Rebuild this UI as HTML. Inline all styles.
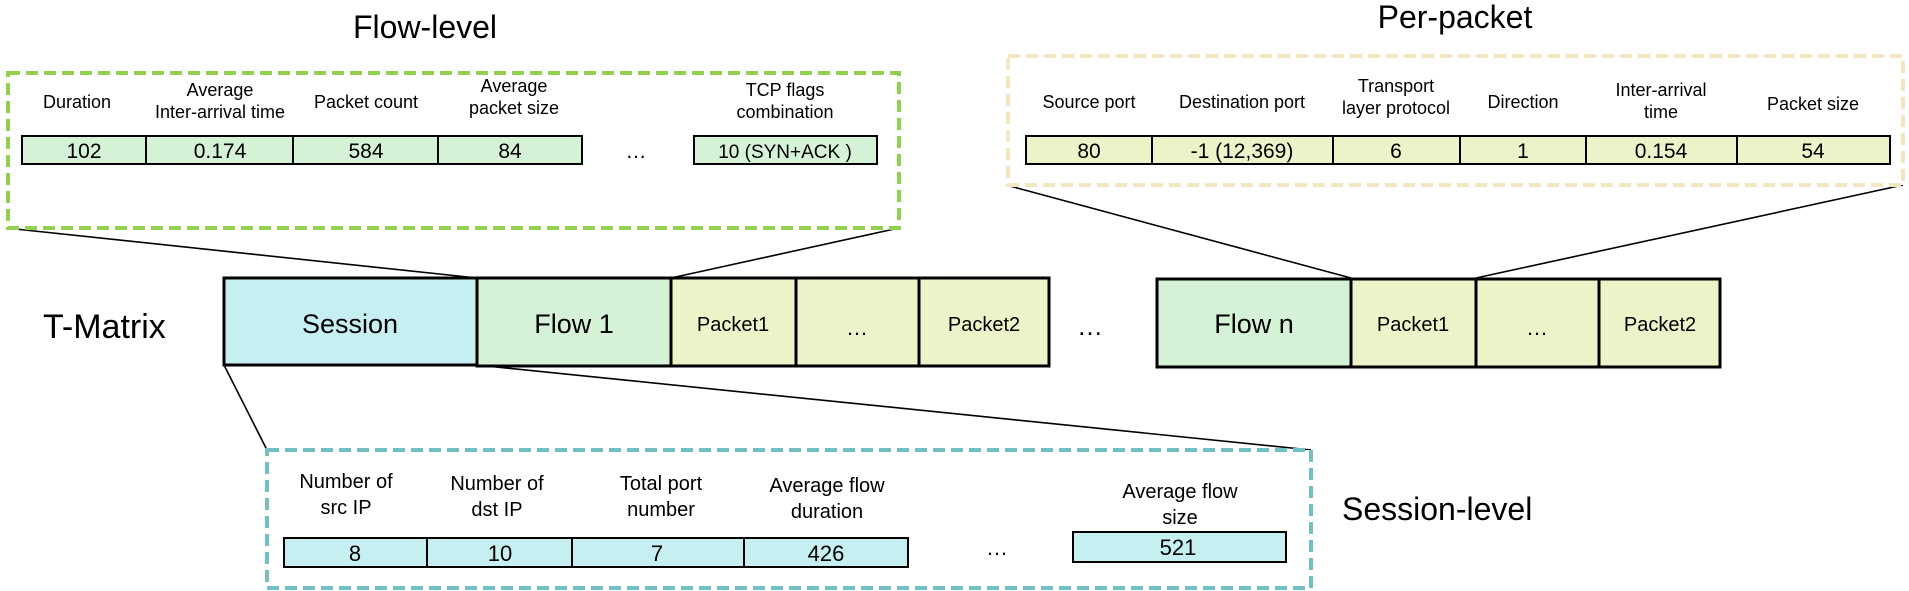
<!DOCTYPE html>
<html><head><meta charset="utf-8"><style>
html,body{margin:0;padding:0;background:#fff}
svg{display:block}
text{font-family:"Liberation Sans",Arial,sans-serif;fill:#000}
</style></head><body>
<svg width="1909" height="591" viewBox="0 0 1909 591" xmlns="http://www.w3.org/2000/svg">
<g stroke="#000" stroke-width="1.6" fill="none">
<line x1="6" y1="228" x2="477" y2="278"/>
<line x1="899" y1="228" x2="671" y2="278"/>
<line x1="1006" y1="185" x2="1351" y2="278"/>
<line x1="1903" y1="185" x2="1476" y2="278"/>
<line x1="224" y1="365" x2="267" y2="450"/>
<line x1="477" y1="365" x2="1311" y2="450"/>
</g>
<rect x="8" y="73" width="891" height="155" fill="#fff" stroke="#92d050" stroke-width="4" stroke-dasharray="12,6"/>
<rect x="1008" y="56" width="895" height="129" fill="#fff" stroke="#f5e6c3" stroke-width="4" stroke-dasharray="12,6"/>
<rect x="267" y="450" width="1044" height="138" fill="#fff" stroke="#72c0c4" stroke-width="4" stroke-dasharray="12,6"/>
<text x="425" y="38" font-size="32" text-anchor="middle">Flow-level</text>
<text x="1455" y="28" font-size="32" text-anchor="middle">Per-packet</text>
<text x="43" y="338" font-size="34">T-Matrix</text>
<text x="1342" y="520" font-size="32">Session-level</text>
<g stroke="#000" stroke-width="2" fill="#d5f2d6">
<rect x="22" y="136" width="124" height="28"/>
<rect x="146" y="136" width="147" height="28"/>
<rect x="293" y="136" width="145" height="28"/>
<rect x="438" y="136" width="144" height="28"/>
<rect x="694" y="136" width="183" height="28"/>
</g>
<g font-size="18" text-anchor="middle">
<text x="77" y="108">Duration</text>
<text x="220" y="96">Average</text><text x="220" y="118">Inter-arrival time</text>
<text x="366" y="108">Packet count</text>
<text x="514" y="92">Average</text><text x="514" y="114">packet size</text>
<text x="785" y="96">TCP flags</text><text x="785" y="118">combination</text>
</g>
<g font-size="21" text-anchor="middle">
<text x="84" y="158">102</text>
<text x="220" y="158">0.174</text>
<text x="366" y="158">584</text>
<text x="510" y="158">84</text>
<text x="636" y="158">…</text>
<text x="785" y="158" font-size="19">10 (SYN+ACK )</text>
</g>
<g stroke="#000" stroke-width="2" fill="#eef2c8">
<rect x="1026" y="136" width="126" height="28"/>
<rect x="1152" y="136" width="181" height="28"/>
<rect x="1333" y="136" width="127" height="28"/>
<rect x="1460" y="136" width="126" height="28"/>
<rect x="1586" y="136" width="151" height="28"/>
<rect x="1737" y="136" width="153" height="28"/>
</g>
<g font-size="18" text-anchor="middle">
<text x="1089" y="108">Source port</text>
<text x="1242" y="108">Destination port</text>
<text x="1396" y="92">Transport</text><text x="1396" y="114">layer protocol</text>
<text x="1523" y="108">Direction</text>
<text x="1661" y="96">Inter-arrival</text><text x="1661" y="118">time</text>
<text x="1813" y="110">Packet size</text>
</g>
<g font-size="21" text-anchor="middle">
<text x="1089" y="158">80</text>
<text x="1242" y="158">-1 (12,369)</text>
<text x="1396" y="158">6</text>
<text x="1523" y="158">1</text>
<text x="1661" y="158">0.154</text>
<text x="1813" y="158">54</text>
</g>
<g stroke="#000" stroke-width="3">
<rect x="224" y="278" width="253" height="87" fill="#c6eff1"/>
<rect x="477" y="278" width="194" height="88" fill="#d5f2d6"/>
<rect x="671" y="278" width="125" height="88" fill="#eef2c8"/>
<rect x="796" y="278" width="123" height="88" fill="#eef2c8"/>
<rect x="919" y="278" width="130" height="88" fill="#eef2c8"/>
<rect x="1157" y="279" width="194" height="88" fill="#d5f2d6"/>
<rect x="1351" y="279" width="125" height="88" fill="#eef2c8"/>
<rect x="1476" y="279" width="123" height="88" fill="#eef2c8"/>
<rect x="1599" y="279" width="121" height="88" fill="#eef2c8"/>
</g>
<g text-anchor="middle">
<text x="350" y="333" font-size="27">Session</text>
<text x="574" y="333" font-size="27">Flow 1</text>
<text x="733" y="331" font-size="20">Packet1</text>
<text x="857" y="335" font-size="22">…</text>
<text x="984" y="331" font-size="20">Packet2</text>
<text x="1090" y="335" font-size="26">…</text>
<text x="1254" y="333" font-size="27">Flow n</text>
<text x="1413" y="331" font-size="20">Packet1</text>
<text x="1537" y="335" font-size="22">…</text>
<text x="1660" y="331" font-size="20">Packet2</text>
</g>
<g stroke="#000" stroke-width="2" fill="#c6eff1">
<rect x="284" y="538" width="143" height="29"/>
<rect x="427" y="538" width="145" height="29"/>
<rect x="572" y="538" width="172" height="29"/>
<rect x="744" y="538" width="164" height="29"/>
<rect x="1073" y="532" width="213" height="30"/>
</g>
<g font-size="20" text-anchor="middle">
<text x="346" y="488">Number of</text><text x="346" y="514">src IP</text>
<text x="497" y="490">Number of</text><text x="497" y="516">dst IP</text>
<text x="661" y="490">Total port</text><text x="661" y="516">number</text>
<text x="827" y="492">Average flow</text><text x="827" y="518">duration</text>
<text x="1180" y="498">Average flow</text><text x="1180" y="524">size</text>
</g>
<g font-size="22" text-anchor="middle">
<text x="355" y="561">8</text>
<text x="500" y="561">10</text>
<text x="657" y="561">7</text>
<text x="826" y="561">426</text>
<text x="997" y="555">…</text>
<text x="1178" y="555">521</text>
</g>
</svg>
</body></html>
